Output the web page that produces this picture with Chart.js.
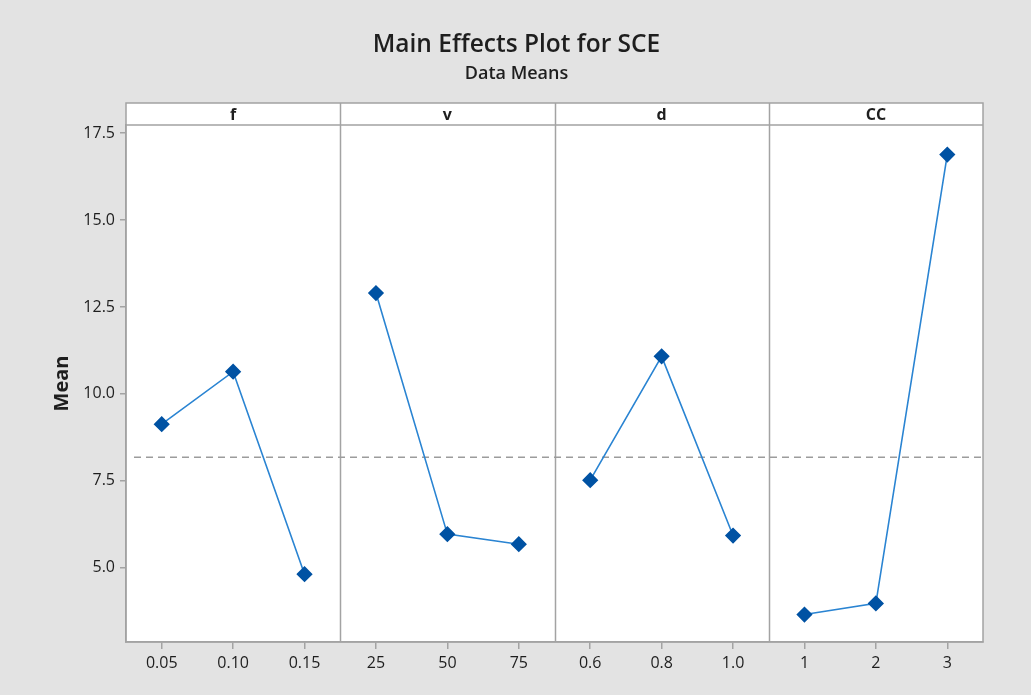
<!DOCTYPE html>
<html>
<head>
<meta charset="utf-8">
<script src="https://cdn.jsdelivr.net/npm/chart.js@4.4.1/dist/chart.umd.min.js"></script>
<style>
  html, body { margin: 0; padding: 0; background: #e3e3e3; }
  #wrap { width: 1031px; height: 695px; }
</style>
</head>
<body>
<div id="wrap"><canvas id="chart"></canvas></div>
<script>
// factor levels (bottom axis) and panel names (strip)
const xLabels = ['0.05', '0.10', '0.15', '25', '50', '75', '0.6', '0.8', '1.0', '1', '2', '3'];
const panelNames = ['f', 'v', 'd', 'CC'];
const yTicks = [5.0, 7.5, 10.0, 12.5, 15.0, 17.5];

// means
const fMeans = [9.13, 10.64, 4.82];
const vMeans = [12.90, 5.97, 5.68];
const dMeans = [7.52, 11.08, 5.93];
const ccMeans = [3.66, 3.98, 16.88];
const grandMean = 8.18;

const lineColor = '#2a84d2';
const markColor = '#0052a3';
const frameColor = '#a3a3a3';
const textColor = '#1e1e1e';

// put each panel's three means in its own slot of the 12 categories
const padPanel = (vals, panel) => xLabels.map((_, i) => {
  const k = i - panel * 3;
  return k >= 0 && k < 3 ? vals[k] : null;
});

const stripLabels = xLabels.map((_, i) => (i % 3 === 1 ? panelNames[Math.floor(i / 3)] : ''));

const datasets = [fMeans, vMeans, dMeans, ccMeans].map((vals, p) => ({
  data: padPanel(vals, p),
  borderColor: lineColor,
  borderWidth: 1.6,
  pointStyle: 'rectRot',
  pointRadius: 7,
  pointHoverRadius: 7,
  pointBackgroundColor: markColor,
  pointBorderColor: markColor,
  spanGaps: false,
  fill: false
}));

// white plot area, strip boxes, panel separators, reference line
const panelPlugin = {
  id: 'panels',
  beforeDraw(chart) {
    const { ctx, chartArea: a } = chart;
    ctx.save();
    ctx.fillStyle = '#ffffff';
    ctx.fillRect(a.left, a.top, a.right - a.left, a.bottom - a.top);
    ctx.fillRect(a.left, a.top - 22, a.right - a.left, 22);
    ctx.restore();
  },
  beforeDatasetsDraw(chart) {
    const { ctx, chartArea: a, scales } = chart;
    const x = scales.x, y = scales.y;
    ctx.save();
    ctx.strokeStyle = frameColor;
    ctx.lineWidth = 1.5;
    ctx.strokeRect(a.left, a.top - 22, a.right - a.left, a.bottom - a.top + 22);
    ctx.beginPath();
    ctx.moveTo(a.left, a.top);
    ctx.lineTo(a.right, a.top);
    for (let p = 1; p < panelNames.length; p++) {
      const px = Math.round(x.getPixelForValue(p * 3 - 0.5)) + 0.5;
      ctx.moveTo(px, a.top - 22);
      ctx.lineTo(px, a.bottom);
    }
    ctx.stroke();
    // grand mean dashed line
    const gy = y.getPixelForValue(grandMean);
    ctx.strokeStyle = '#9c9c9c';
    ctx.lineWidth = 1.5;
    ctx.setLineDash([7, 5]);
    ctx.beginPath();
    ctx.moveTo(a.left + 8, gy);
    ctx.lineTo(a.right, gy);
    ctx.stroke();
    ctx.restore();
  }
};

new Chart(document.getElementById('chart'), {
  type: 'line',
  data: { labels: xLabels, datasets: datasets },
  plugins: [panelPlugin],
  options: {
    responsive: true,
    maintainAspectRatio: false,
    animation: false,
    layout: { padding: { left: 50, right: 48, top: 0, bottom: 0 } },
    plugins: {
      legend: { display: false },
      tooltip: { enabled: false },
      title: {
        display: true,
        text: 'Main Effects Plot for SCE',
        color: textColor,
        font: { family: 'Open Sans', size: 24.5, weight: '600' },
        padding: { top: 30, bottom: 4 }
      },
      subtitle: {
        display: true,
        text: 'Data Means',
        color: textColor,
        font: { family: 'Open Sans', size: 18, weight: '600' },
        padding: { top: 0, bottom: 18 }
      }
    },
    scales: {
      x: {
        type: 'category',
        offset: true,
        afterFit: s => { s.height = 53; },
        grid: { display: true, drawOnChartArea: false, offset: false, tickLength: 7, color: frameColor, lineWidth: 1.5 },
        border: { display: true, color: frameColor, width: 1.5 },
        ticks: {
          autoSkip: false, maxRotation: 0, padding: 5, color: textColor,
          font: { family: 'Open Sans', size: 16 }
        }
      },
      x2: {
        type: 'category',
        position: 'top',
        labels: stripLabels,
        offset: true,
        afterFit: s => { s.height = 22; },
        grid: { display: false, drawTicks: false },
        border: { display: false },
        ticks: {
          autoSkip: false, maxRotation: 0, padding: 0, color: textColor,
          font: { family: 'Open Sans', size: 16, weight: 'bold' }
        }
      },
      y: {
        min: 2.87,
        max: 17.73,
        afterFit: s => { s.width = 76; },
        afterBuildTicks: s => { s.ticks = yTicks.map(v => ({ value: v })); },
        grid: { display: true, drawOnChartArea: false, tickLength: 6, color: frameColor, lineWidth: 1.5 },
        border: { display: true, color: frameColor, width: 1.5 },
        ticks: {
          padding: 5, color: textColor,
          font: { family: 'Open Sans', size: 16 },
          callback: v => Number(v).toFixed(1)
        },
        title: {
          display: true,
          text: 'Mean',
          color: textColor,
          font: { family: 'Open Sans', size: 20, weight: 'bold' },
          padding: { top: 0, bottom: 0 }
        }
      }
    }
  }
});
</script>
</body>
</html>
